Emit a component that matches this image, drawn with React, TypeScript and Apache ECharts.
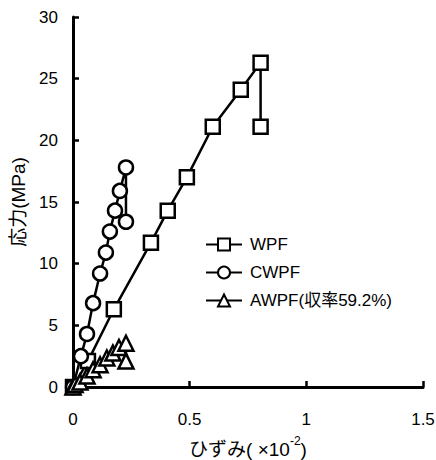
import React, { useEffect, useRef } from "react";
import * as echarts from "echarts";

const xTickLabels = ["0", "0.5", "1", "1.5"];
const yTickLabels = ["0", "5", "10", "15", "20", "25", "30"];

const wpfStrain = [0, 0.064, 0.175, 0.334, 0.406, 0.488, 0.599, 0.719, 0.804, 0.804];
const wpfStress = [0, 2.1, 6.3, 11.7, 14.3, 17.0, 21.1, 24.1, 26.3, 21.1];

const cwpfStrain = [0, 0.034, 0.06, 0.086, 0.116, 0.141, 0.158, 0.18, 0.201, 0.227, 0.227];
const cwpfStress = [0, 2.5, 4.3, 6.8, 9.2, 10.9, 12.6, 14.3, 15.9, 17.8, 13.4];

const awpfStrain = [0, 0.009, 0.03, 0.06, 0.086, 0.116, 0.145, 0.171, 0.197, 0.227, 0.227];
const awpfStress = [0, 0.2, 0.4, 0.9, 1.4, 1.8, 2.35, 2.75, 3.2, 3.55, 2.1];

const seriesNames = ["WPF", "CWPF", "AWPF(収率59.2%)"];

const FONT = "'Liberation Sans', Arial, 'Noto Sans CJK JP', sans-serif";

function zip(xs: number[], ys: number[]) {
  return xs.map((x, i) => [x, ys[i]]);
}

export default function App() {
  const ref = useRef<HTMLDivElement>(null);
  useEffect(() => {
    if (!ref.current) return;
    const chart = echarts.init(ref.current, null, { renderer: "svg" });
    const common = {
      type: "line",
      lineStyle: { color: "#000", width: 2.5 },
      itemStyle: { color: "#fff", borderColor: "#000", borderWidth: 2.5 },
      showAllSymbol: true,
      z: 3,
    };
    chart.setOption({
      animation: false,
      backgroundColor: "#fff",
      textStyle: { fontFamily: FONT },
      grid: { left: 73, top: 17, right: 13, bottom: 73, outerBoundsMode: "none", containLabel: false },
      legend: {
        orient: "vertical",
        left: 205,
        top: 236,
        padding: 0,
        itemWidth: 36,
        itemHeight: 15,
        itemGap: 11,
        data: seriesNames,
        textStyle: { fontSize: 17, color: "#000", fontFamily: FONT, padding: [0, 0, 0, 3] },
      },
      xAxis: {
        type: "value",
        min: 0,
        max: 1.5,
        interval: 0.5,
        name: "ひずみ( ×10{sup|-2})",
        nameLocation: "middle",
        nameGap: 48,
        nameTextStyle: {
          fontSize: 19,
          color: "#000",
          fontFamily: FONT,
          rich: {
            sup: { fontSize: 12, verticalAlign: "top", lineHeight: 28, color: "#000", fontFamily: FONT },
          },
        },
        splitLine: { show: false },
        axisLine: { lineStyle: { color: "#000", width: 3 } },
        axisTick: { inside: true, length: 6, lineStyle: { color: "#000", width: 2.5 } },
        axisLabel: {
          fontSize: 17,
          color: "#000",
          margin: 24,
          formatter: (v: number) => {
            const i = Math.round(v / 0.5);
            return xTickLabels[i] ?? "";
          },
        },
      },
      yAxis: {
        type: "value",
        min: 0,
        max: 30,
        interval: 5,
        name: "応力(MPa)",
        nameLocation: "middle",
        nameGap: 42,
        nameTextStyle: { fontSize: 19, color: "#000", fontFamily: FONT },
        splitLine: { show: false },
        axisLine: { lineStyle: { color: "#000", width: 3 } },
        axisTick: { inside: true, length: 6, lineStyle: { color: "#000", width: 2.5 } },
        axisLabel: {
          fontSize: 17,
          color: "#000",
          margin: 15,
          formatter: (v: number) => {
            const i = Math.round(v / 5);
            return yTickLabels[i] ?? "";
          },
        },
      },
      series: [
        { ...common, name: seriesNames[0], symbol: "rect", symbolSize: 14, data: zip(wpfStrain, wpfStress) },
        { ...common, name: seriesNames[1], symbol: "circle", symbolSize: 14, data: zip(cwpfStrain, cwpfStress) },
        { ...common, name: seriesNames[2], symbol: "triangle", symbolSize: 15, data: zip(awpfStrain, awpfStress) },
      ],
    });
    return () => chart.dispose();
  }, []);
  return <div ref={ref} style={{ width: 436, height: 460, position: "absolute", left: 0, top: 0 }} />;
}
